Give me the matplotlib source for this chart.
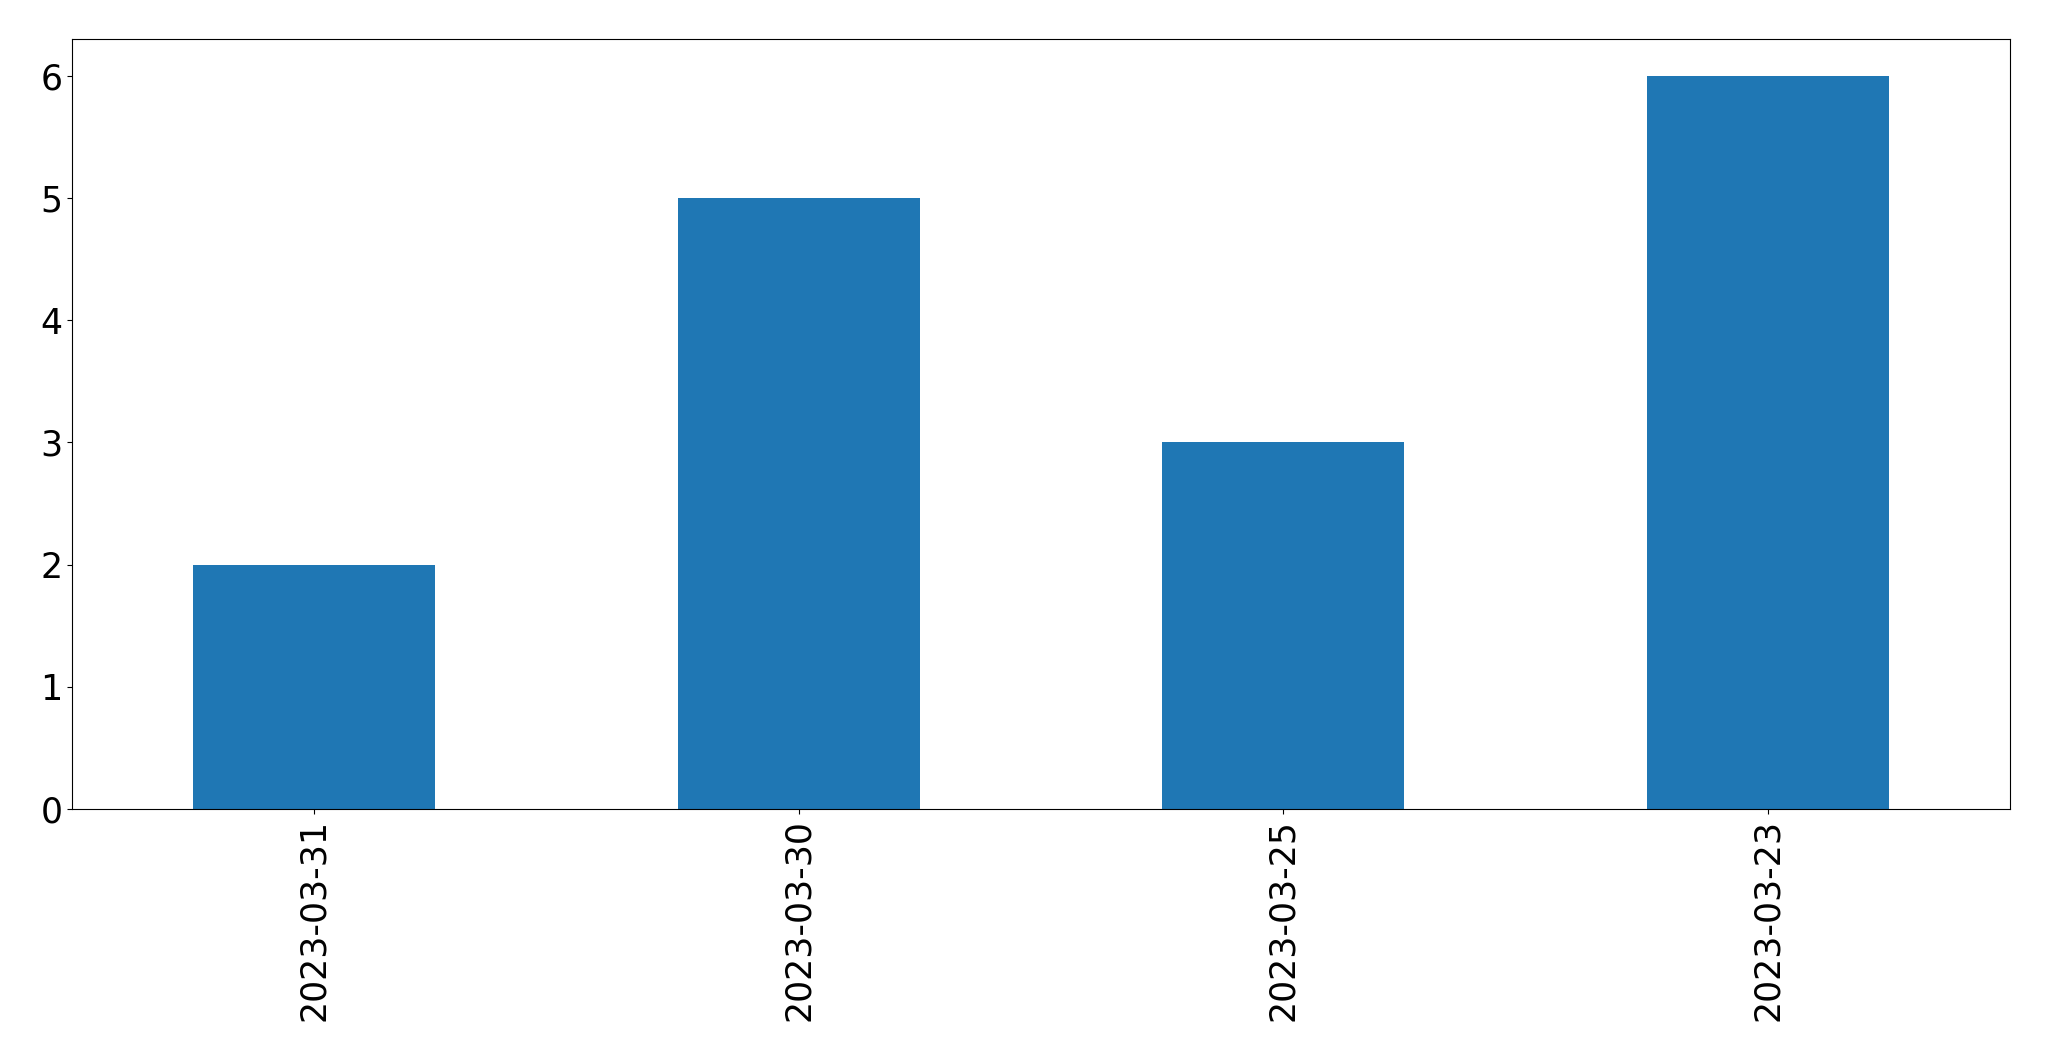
import pandas as pd
import matplotlib
matplotlib.use('Agg')
import matplotlib.pyplot as plt

dates = ['2023-03-31', '2023-03-30', '2023-03-25', '2023-03-23']
counts = [2, 5, 3, 6]

s = pd.Series(counts, index=dates)

fig = plt.figure(figsize=(20.49, 10.61), dpi=100)
ax = fig.add_axes([72 / 2049, 1 - 809 / 1061, (2010 - 72) / 2049, (809 - 39) / 1061])
s.plot(kind='bar', ax=ax, color='#1f77b4')
ax.tick_params(axis='both', labelsize=25)
fig.savefig('out.png', dpi=100)
